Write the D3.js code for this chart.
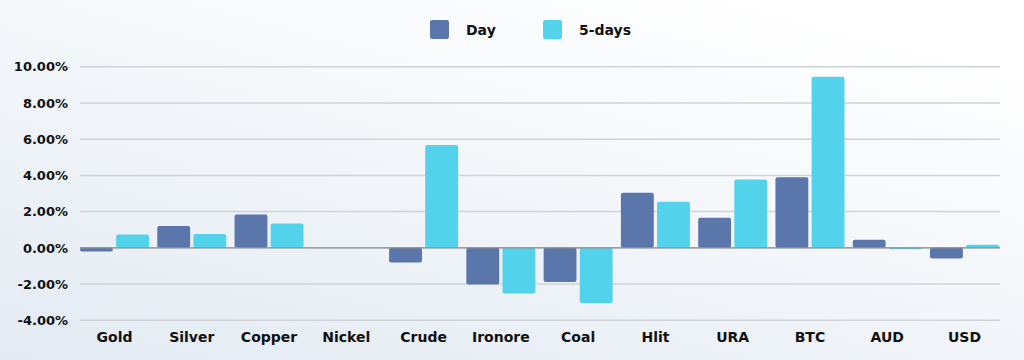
<!DOCTYPE html>
<html>
<head>
<meta charset="utf-8">
<script src="https://cdn.jsdelivr.net/npm/d3@7"></script>
<style>
  html, body { margin: 0; padding: 0; }
  body { width: 1024px; height: 360px; overflow: hidden; font-family: "DejaVu Sans", "Open Sans", sans-serif; }
  .grid line { stroke: #cfd2d6; stroke-width: 1.5; }
  .axis text { font-weight: 700; fill: #111; font-family: "DejaVu Sans", sans-serif; }
</style>
</head>
<body>
<div id="chart"></div>
<script>
var categories = ["Gold", "Silver", "Copper", "Nickel", "Crude", "Ironore", "Coal", "Hlit", "URA", "BTC", "AUD", "USD"];
var seriesNames = ["Day", "5-days"];
var dayValues = [-0.2, 1.21, 1.84, 0, -0.81, -2.03, -1.88, 3.04, 1.66, 3.9, 0.44, -0.59];
var fiveDayValues = [0.73, 0.77, 1.34, 0, 5.68, -2.52, -3.04, 2.54, 3.77, 9.45, -0.08, 0.17];
var yTicks = [-4, -2, 0, 2, 4, 6, 8, 10];
var colors = ["#5a76ab", "#53d2eb"];

var W = 1024, H = 360;
var svg = d3.select("#chart").append("svg").attr("width", W).attr("height", H);

// background
var defs = svg.append("defs");
var grad = defs.append("linearGradient").attr("id", "bg")
  .attr("x1", "0").attr("y1", "1").attr("x2", "0.75").attr("y2", "0");
grad.append("stop").attr("offset", "0").attr("stop-color", "#e3eaf2");
grad.append("stop").attr("offset", "1").attr("stop-color", "#ffffff");
svg.append("rect").attr("width", W).attr("height", H).attr("fill", "url(#bg)");

var data = categories.map(function(c, i) {
  return {cat: c, values: [dayValues[i], fiveDayValues[i]]};
});

var x0 = d3.scaleBand().domain(categories).range([80, 999]).paddingInner(0.107).paddingOuter(0);
var x1 = d3.scaleBand().domain(seriesNames).range([0, x0.bandwidth()]).paddingInner(0.09);
var y = d3.scaleLinear().domain([-4, 10]).range([320.3, 66.7]);

// gridlines
svg.append("g").attr("class", "grid")
  .selectAll("line").data(yTicks).enter().append("line")
  .attr("x1", 80).attr("x2", 1000)
  .attr("y1", function(d) { return y(d); })
  .attr("y2", function(d) { return y(d); });

// Y axis
var yAxis = svg.append("g").attr("class", "axis")
  .attr("transform", "translate(80,0)")
  .call(d3.axisLeft(y).tickValues(yTicks).tickSize(0).tickPadding(12)
    .tickFormat(function(d) { return d.toFixed(2) + "%"; }));
yAxis.select(".domain").remove();
yAxis.selectAll("text").style("font-size", "13px");

// bars
var groups = svg.append("g").selectAll("g").data(data).enter().append("g")
  .attr("transform", function(d) { return "translate(" + x0(d.cat) + ",0)"; });
groups.selectAll("rect").data(function(d) {
  return d.values.map(function(v, i) { return {key: seriesNames[i], value: v, i: i}; });
}).enter().append("rect")
  .attr("x", function(d) { return x1(d.key); })
  .attr("width", x1.bandwidth())
  .attr("y", function(d) { return y(Math.max(0, d.value)); })
  .attr("height", function(d) { return Math.abs(y(d.value) - y(0)); })
  .attr("rx", 2)
  .attr("fill", function(d) { return colors[d.i]; });

// zero line
svg.append("line").attr("x1", 80).attr("x2", 1000)
  .attr("y1", y(0)).attr("y2", y(0))
  .attr("stroke", "#8a8d91").attr("stroke-width", 1.3);

// X axis
var xAxis = svg.append("g").attr("class", "axis")
  .attr("transform", "translate(0,329)")
  .call(d3.axisBottom(x0).tickSize(0).tickPadding(3));
xAxis.select(".domain").remove();
xAxis.selectAll("text").style("font-size", "14px");

// legend
var legendX = [430, 543];
var legend = svg.append("g").selectAll("g").data(seriesNames).enter().append("g")
  .attr("transform", function(d, i) { return "translate(" + legendX[i] + ",20)"; });
legend.append("rect").attr("width", 19).attr("height", 19).attr("rx", 2)
  .attr("fill", function(d, i) { return colors[i]; });
legend.append("text").attr("x", 36).attr("y", 10).attr("dy", "0.35em")
  .style("font-size", "14px").style("font-weight", 700).attr("fill", "#111")
  .style("font-family", "DejaVu Sans, sans-serif")
  .text(function(d) { return d; });
</script>
</body>
</html>
